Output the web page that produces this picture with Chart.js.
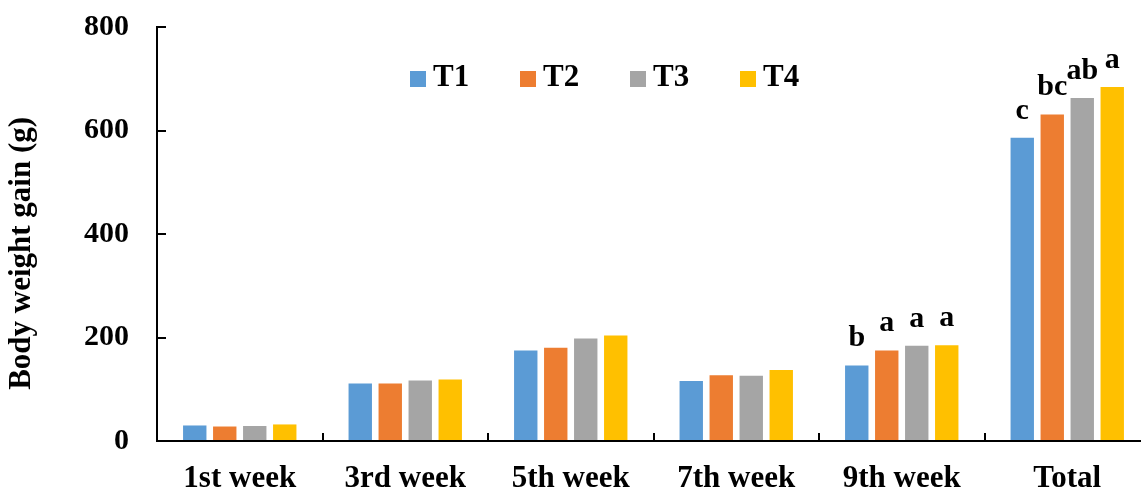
<!DOCTYPE html>
<html>
<head>
<meta charset="utf-8">
<title>Body weight gain</title>
<script src="https://cdn.jsdelivr.net/npm/chart.js@4.4.1/dist/chart.umd.min.js"></script>
<style>
	html, body { margin: 0; padding: 0; overflow: hidden; background: #fff; }
	#wrap { width: 1150px; height: 493px; }
</style>
</head>
<body>
<div id="wrap"><canvas id="chart" width="1150" height="493"></canvas></div>
<script>
// data
const weeks = ["1st week", "3rd week", "5th week", "7th week", "9th week", "Total"];
const seriesNames = ["T1", "T2", "T3", "T4"];
const t1 = [30, 111, 175, 116, 146, 586];
const t2 = [28, 111, 180, 127, 175, 631];
const t3 = [29, 117, 198, 126, 184, 663];
const t4 = [32, 119, 204, 137, 185, 684];
// significance letters above the bars
const t1Letters = ["", "", "", "", "b", "c"];
const t2Letters = ["", "", "", "", "a", "bc"];
const t3Letters = ["", "", "", "", "a", "ab"];
const t4Letters = ["", "", "", "", "a", "a"];
const yTicks = [0, 200, 400, 600, 800];

const colors = ["#5B9BD5", "#ED7D31", "#A5A5A5", "#FFC000"];
const serif = "'Liberation Serif', 'Times New Roman', serif";

const allValues = [t1, t2, t3, t4];
const allLetters = [t1Letters, t2Letters, t3Letters, t4Letters];

// letters drawn above each bar
const letterPlugin = {
	id: "letters",
	afterDatasetsDraw(chart) {
		const ctx = chart.ctx;
		ctx.save();
		ctx.font = `bold 30px ${serif}`;
		ctx.fillStyle = "#000";
		ctx.textAlign = "center";
		ctx.textBaseline = "alphabetic";
		allLetters.forEach((letters, i) => {
			chart.getDatasetMeta(i).data.forEach((bar, j) => {
				if (letters[j]) ctx.fillText(letters[j], bar.x, bar.y - 19);
			});
		});
		ctx.restore();
	},
};

// legend inside the plot, one row, left of centre
const legendLeft = 410;
const legendStep = 110;
const legendMid = 78;
const insideLegend = {
	id: "insideLegend",
	afterDraw(chart) {
		const ctx = chart.ctx;
		ctx.save();
		ctx.font = `bold 31px ${serif}`;
		ctx.textAlign = "left";
		ctx.textBaseline = "middle";
		chart.data.datasets.forEach((ds, i) => {
			const x = legendLeft + i * legendStep;
			ctx.fillStyle = ds.backgroundColor;
			ctx.fillRect(x, legendMid - 7, 16, 16);
			ctx.fillStyle = "#000";
			ctx.fillText(ds.label, x + 23, legendMid);
		});
		ctx.restore();
	},
};

new Chart(document.getElementById("chart"), {
	type: "bar",
	data: {
		labels: weeks,
		datasets: allValues.map((vals, i) => ({
			label: seriesNames[i],
			data: vals,
			backgroundColor: colors[i],
			borderWidth: 0,
			categoryPercentage: 0.725,
			barPercentage: 0.78,
		})),
	},
	options: {
		responsive: false,
		animation: false,
		devicePixelRatio: 1,
		layout: { padding: { left: 0, right: 0, top: 27, bottom: 0 } },
		plugins: {
			tooltip: { enabled: false },
			legend: { display: false },
		},
		scales: {
			x: {
				grid: { display: true, drawOnChartArea: false, drawTicks: true, tickLength: -8, color: "#000", lineWidth: 2 },
				border: { display: true, color: "#000", width: 2 },
				ticks: { color: "#000", padding: 27, maxRotation: 0, font: { family: serif, size: 31, weight: "bold" } },
				afterFit(scale) {
					scale.height = 52;
					scale.paddingLeft = 0;
					scale.paddingRight = 0;
				},
			},
			y: {
				min: 0,
				max: 800,
				afterBuildTicks(scale) { scale.ticks = yTicks.map((v) => ({ value: v })); },
				grid: { display: true, drawOnChartArea: false, drawTicks: true, tickLength: -9, color: "#000", lineWidth: 2 },
				border: { display: true, color: "#000", width: 2 },
				ticks: { color: "#000", padding: 37, font: { family: serif, size: 30, weight: "bold" } },
				title: {
					display: true,
					// trailing spaces push the title a little below the plot's middle, as in the figure
					text: "Body weight gain (g)     ",
					color: "#000",
					padding: { top: 3, bottom: 0 },
					font: { family: serif, size: 31, weight: "bold" },
				},
				afterFit(scale) {
					scale.width = 157;
					scale.paddingTop = 0;
					scale.paddingBottom = 0;
				},
			},
		},
	},
	plugins: [letterPlugin, insideLegend],
});
</script>
</body>
</html>
